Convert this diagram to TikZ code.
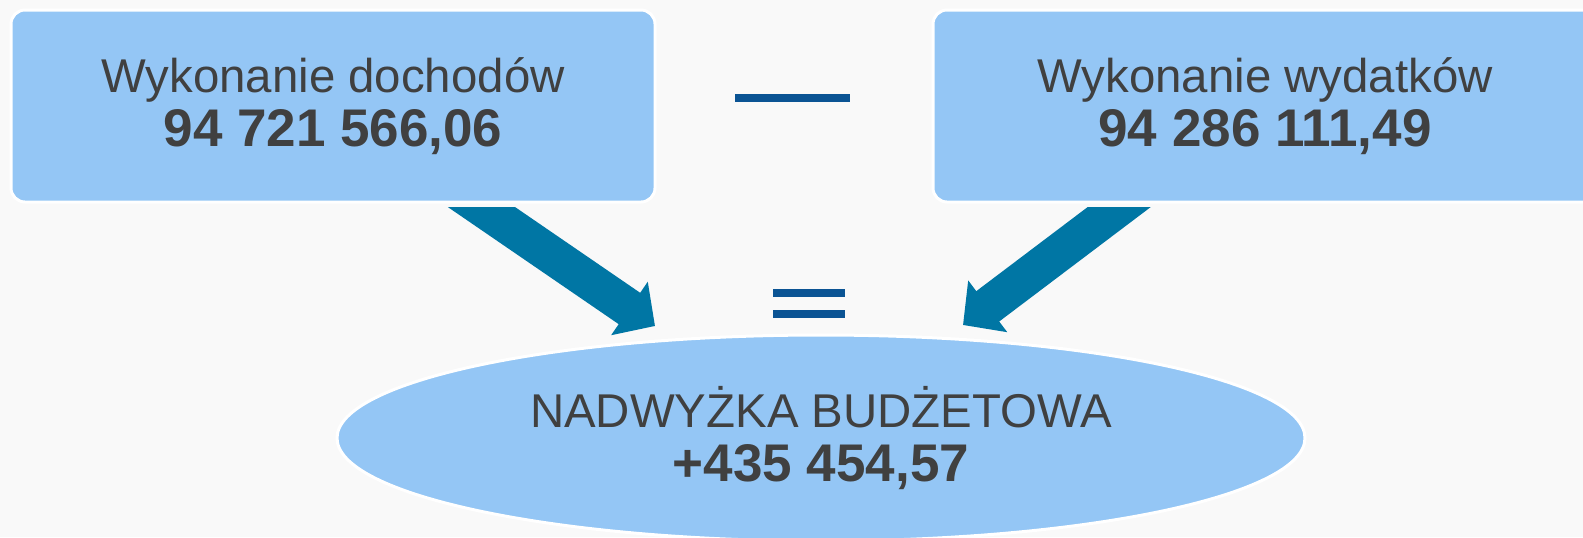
\documentclass[tikz,border=0pt]{standalone}
\usepackage{fontspec}
\setmainfont{Liberation Sans}
\usetikzlibrary{arrows.meta, shapes.geometric}
\definecolor{jasnyniebieski}{RGB}{148,198,245}
\definecolor{strzalka}{RGB}{0,118,164}
\definecolor{znak}{RGB}{11,84,148}
\definecolor{tekst}{RGB}{64,64,64}
\definecolor{tlo}{RGB}{249,249,249}

\begin{document}
\begin{tikzpicture}[x=0.5pt, y=-0.5pt,
  every node/.style={text=tekst, font=\fontsize{23.7}{27}\selectfont},
  pole/.style={draw=white, line width=1.5pt, fill=jasnyniebieski, rounded corners=7pt, align=center, inner sep=0pt},
  kreska/.style={fill=znak, inner sep=0pt, minimum height=4pt},
  blokstrzalka/.style={draw=strzalka, line width=19pt, -{Triangle[length=15.5pt, width=31.5pt]}}]
% tlo
\fill[tlo] (0,0) rectangle (1583,537);
\useasboundingbox (0,0) rectangle (1583,537);

% strzalki
\coordinate (lstart) at (442,180);
\coordinate (ltip) at (655,326);
\coordinate (rstart) at (1155,180);
\coordinate (rtip) at (963,325);
\begin{scope}
\clip (0,207) rectangle (1583,537);
\draw[blokstrzalka] (lstart) -- (ltip);
\draw[blokstrzalka] (rstart) -- (rtip);
\end{scope}

% dochody i wydatki
\node[pole, minimum width=322pt, minimum height=96pt] (dochody) at (333,106)
  {Wykonanie dochodów\\{\bfseries\fontsize{26.5}{27}\selectfont 94 721 566,06}};
\node[pole, minimum width=332pt, minimum height=96pt] (wydatki) at (1265,106)
  {Wykonanie wydatków\\{\bfseries\fontsize{26.5}{27}\selectfont 94 286 111,49}};

% wynik
\node[ellipse, draw=white, line width=1.5pt, fill=jasnyniebieski, inner sep=0pt, align=center,
  minimum width=484pt, minimum height=103pt] (wynik) at (821,438)
  {NADWYŻKA BUDŻETOWA\\{\bfseries\fontsize{26.5}{27}\selectfont +435 454,57}};

% znaki minus i rowna sie
\node[kreska, minimum width=57.5pt] (minus) at (792,98) {};
\node[kreska, minimum width=36pt] (rowna1) at (809,293) {};
\node[kreska, minimum width=36pt] (rowna2) at (809,314) {};
\end{tikzpicture}
\end{document}
